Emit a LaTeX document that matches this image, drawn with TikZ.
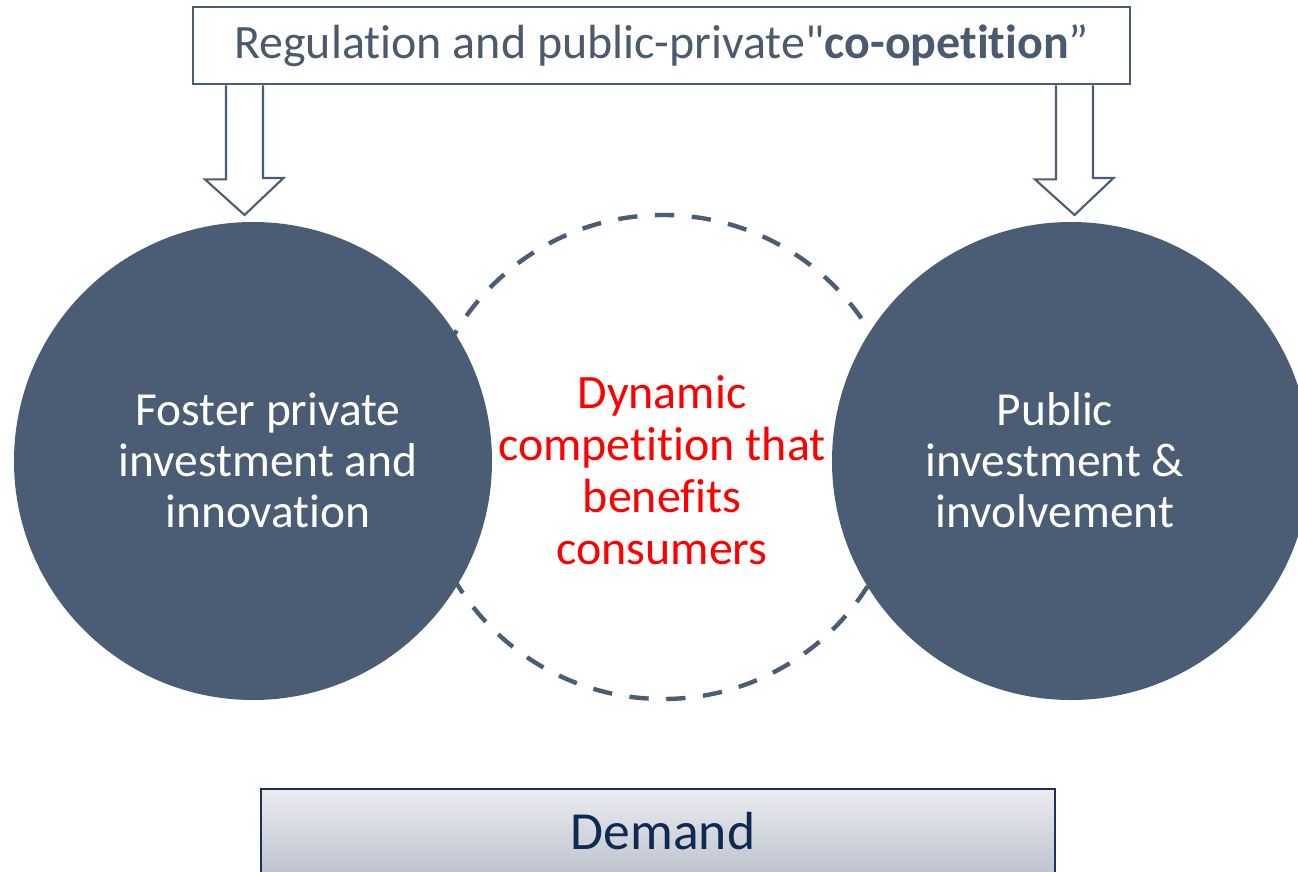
\documentclass[tikz,border=0pt]{standalone}
\usepackage{fontspec}
\setmainfont{Carlito}[Ligatures={NoCommon}]
\definecolor{slate}{HTML}{4A5D74}
\definecolor{slatetext}{HTML}{4B5A6E}
\definecolor{navy}{HTML}{0F2A4F}
\definecolor{navyline}{HTML}{1F3356}
\definecolor{demtop}{HTML}{EBECF0}
\definecolor{dembot}{HTML}{B6BCC9}
% straight double quote glyph, bypassing the TeX quote mapping
\newcommand{\straightquote}{\XeTeXglyph\XeTeXcharglyph"22\relax}
\begin{document}
\begin{tikzpicture}[x=0.02cm,y=-0.02cm,
  topbox/.style={draw=slate,line width=1.6pt,fill=white,minimum width=937*0.02cm,minimum height=77*0.02cm,inner sep=0pt},
  bigdisk/.style={circle,fill=slate,minimum size=478*0.02cm,inner sep=0pt},
  ring/.style={circle,draw=slate,line width=2.5pt,dash pattern=on 11pt off 10pt,minimum size=484*0.02cm,inner sep=0pt},
  disktext/.style={text=white,align=center,font=\fontsize{27}{29}\selectfont},
  midtext/.style={text=red,align=center,font=\fontsize{27.3}{29.5}\selectfont},
  hollowarrow/.style={draw=slate,line width=1.2pt,fill=white,line join=miter},
  demandbox/.style={draw=navyline,line width=1pt,top color=demtop,bottom color=dembot,minimum width=794*0.02cm,minimum height=100*0.02cm,inner sep=0pt}
]
\useasboundingbox (0,0) rectangle (1298,872);
\clip (0,0) rectangle (1298,872);

% dashed ring in the middle, drawn first so the disks cover its sides
\node[ring] (ring) at (663,457) {};

% the two solid disks
\node[bigdisk] (left) at (253,461) {};
\node[bigdisk] (right) at (1071,461) {};

% texts
\node[disktext] (lefttext) at (268,460) {Foster private\\investment and\\innovation};
\node[disktext] (righttext) at (1055,460) {Public\\investment \&\\involvement};
\node[midtext] (midt) at (662,470) {Dynamic\\competition that\\benefits\\consumers};

% top box
\node[topbox] (top) at (661.5,45.5) {};
\node[text=slatetext,font=\fontsize{27.3}{31}\selectfont] (toptext) at (661.5,45.5)
  {Regulation and public-private\straightquote\textbf{co-opetition}”};

% hollow down arrows from the top box to the disks
\coordinate (ltip) at (244.5,215);
\coordinate (rtip) at (1074.5,215);
\draw[hollowarrow] ([xshift=-18.5*0.02cm]top.south -| ltip) -- ++(0,94) -- ++(-21,0)
  -- (ltip) -- ++(39,-37) -- ++(-20.5,0) -- ([xshift=18.5*0.02cm]top.south -| ltip);
\draw[hollowarrow] ([xshift=-18.5*0.02cm]top.south -| rtip) -- ++(0,94) -- ++(-21,0)
  -- (rtip) -- ++(39,-37) -- ++(-20.5,0) -- ([xshift=18.5*0.02cm]top.south -| rtip);

% demand box
\node[demandbox] (demand) at (658,839) {};
\node[text=navy,font=\fontsize{30.5}{36}\selectfont] (demandtext) at (663,831) {Demand};
\end{tikzpicture}
\end{document}
